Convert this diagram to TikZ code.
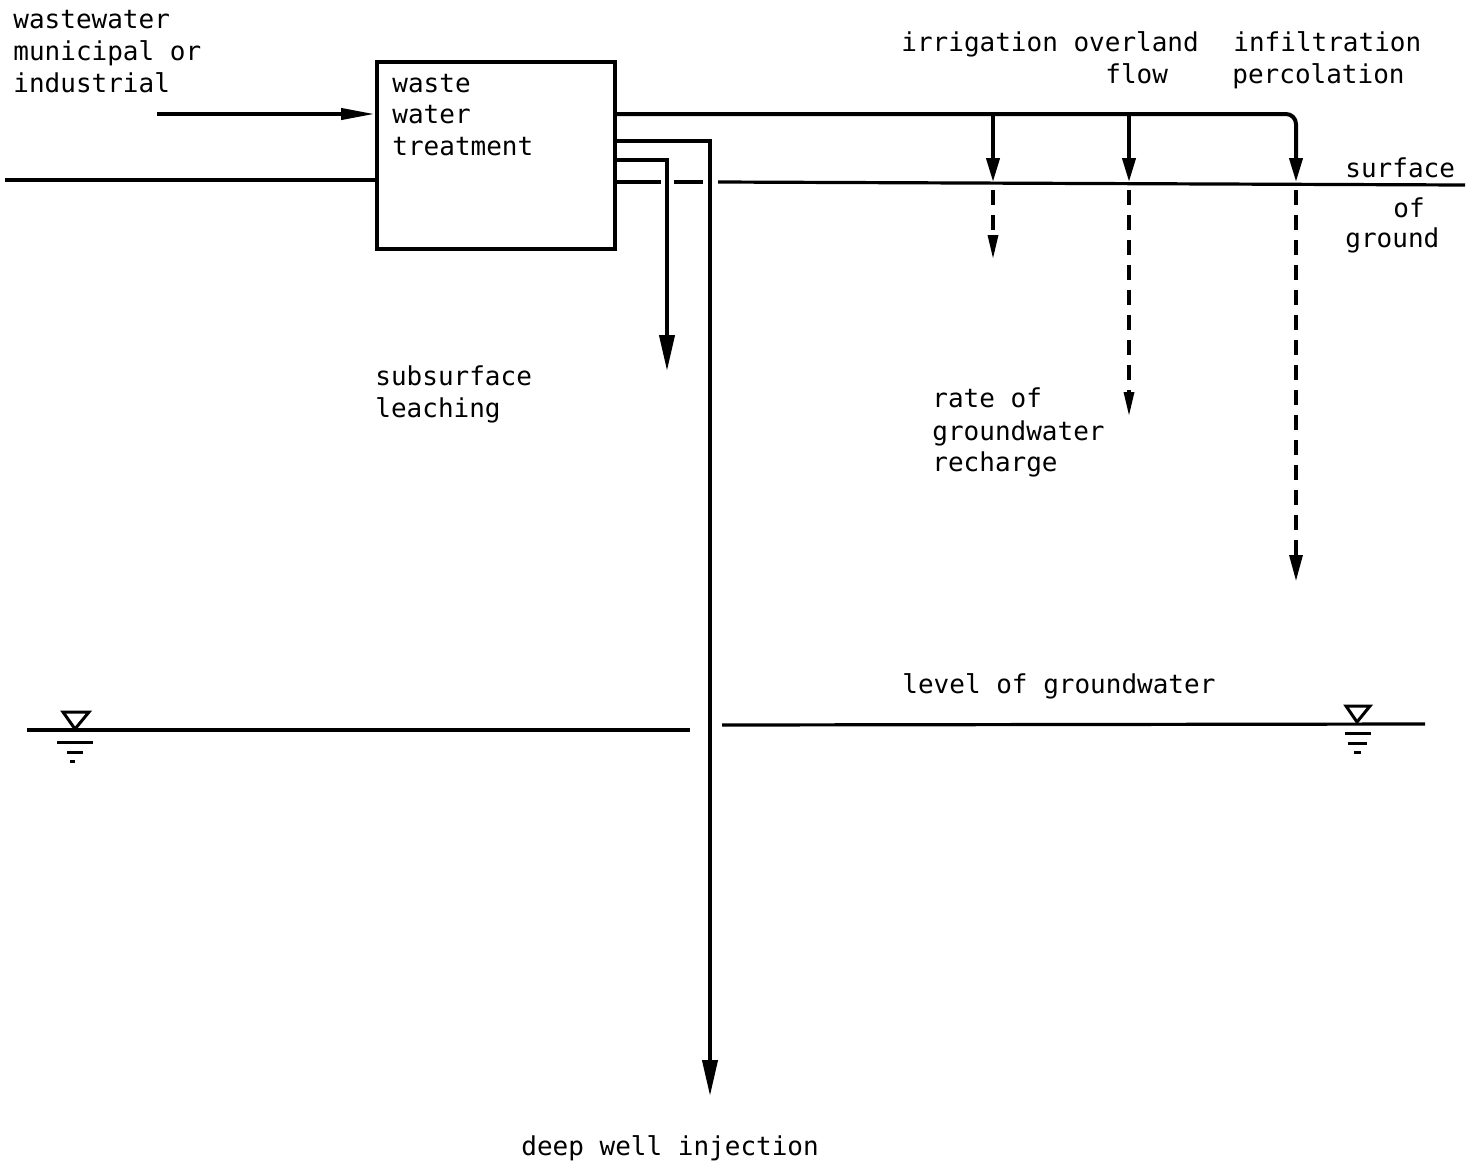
\documentclass[tikz,border=0pt]{standalone}
\usepackage{fontspec}
\setmonofont{DejaVu Sans Mono}
\usetikzlibrary{arrows.meta}
\begin{document}
\begin{tikzpicture}[x=0.5pt,y=-0.5pt,
  lbl/.style={anchor=base west, inner sep=0pt, font=\ttfamily\fontsize{13}{16}\selectfont},
  pipe/.style={line width=2pt},
  thinline/.style={line width=1.6pt},
  bigtip/.style={-{Triangle[length=18pt,width=7.5pt]}},
  intip/.style={-{Triangle[length=17pt,width=5.5pt]}},
  surftip/.style={-{Triangle[length=12pt,width=6.5pt]}},
  dashline/.style={line width=1.6pt, dash pattern=on 7.5pt off 5pt},
  smalltip/.style={-{Triangle[length=12pt,width=5pt]}},
  wtsym/.style={line width=1.5pt}
]
\useasboundingbox (0,0) rectangle (1479,1168);

% treatment box
\node (box) [draw, pipe, inner sep=0pt, minimum width=119pt, minimum height=93.5pt, anchor=north west] at (375,60) {};
\node (boxtxt1) [lbl] at (392,92) {waste};
\node (boxtxt2) [lbl] at (392,123) {water};
\node (boxtxt3) [lbl] at (392,155) {treatment};

% input
\node (intxt1) [lbl] at (13,28) {wastewater};
\node (intxt2) [lbl] at (13,60) {municipal or};
\node (intxt3) [lbl] at (13,92) {industrial};
\coordinate (in) at (157,114);
\draw[pipe, intip] (in) -- (box.west |- in);

% ground surface
\coordinate (gL) at (5,180);
\coordinate (gA) at (661,182);
\coordinate (gB) at (674,182);
\coordinate (gC) at (703,182);
\coordinate (gD) at (718,182);
\coordinate (gR) at (1465,185);
\draw[thinline] (gL) -- (box.west |- gL);
\draw[thinline] (box.east |- gA) -- (gA);
\draw[thinline] (gB) -- (gC);
\draw[thinline] (gD) -- (gR);

% distribution to surface methods
\coordinate (top) at (1296,114);
\coordinate (s1) at (993,182);
\coordinate (s2) at (1129,182);
\coordinate (s3) at (1296,182);
\draw[pipe, rounded corners=5pt, surftip] (box.east |- top) -- (top) -- (s3);
\draw[pipe, surftip] (s1 |- top) -- (s1);
\draw[pipe, surftip] (s2 |- top) -- (s2);

% infiltration (dashed)
\coordinate (r1) at (993,259);
\coordinate (r2) at (1129,416);
\coordinate (r3) at (1296,581);
\draw[dashline, smalltip] ([yshift=-4pt]s1) -- (r1);
\draw[dashline, smalltip] ([yshift=-4pt]s2) -- (r2);
\draw[dashline, -{Triangle[length=13pt,width=6.5pt]}] ([yshift=-4pt]s3) -- (r3);

% subsurface leaching
\coordinate (lk) at (667,160);
\coordinate (lend) at (667,371);
\draw[pipe, bigtip] (box.east |- lk) -- (lk) -- (lend);

% deep well injection
\coordinate (dk) at (710,141);
\coordinate (dend) at (710,1096);
\draw[pipe, bigtip] (box.east |- dk) -- (dk) -- (dend);

% groundwater level
\coordinate (wL0) at (27,730);
\coordinate (wL1) at (690,730);
\coordinate (wR0) at (722,725);
\coordinate (wR1) at (1425,724);
\draw[thinline] (wL0) -- (wL1);
\draw[thinline] (wR0) -- (wR1);

% water table symbols
\draw[wtsym] (63,712) -- (89,712) -- (75,729) -- cycle;
\draw[wtsym] (57,742) -- (93,742);
\draw[wtsym] (67,752) -- (83,752);
\draw[wtsym] (70,761) -- (75,761);
\draw[wtsym] (1346,706) -- (1370,706) -- (1357,722) -- cycle;
\draw[wtsym] (1345,733) -- (1371,733);
\draw[wtsym] (1348,743) -- (1367,743);
\draw[wtsym] (1354,752) -- (1361,752);

% labels
\node (irr) [lbl] at (901,51) {irrigation overland};
\node (flow) [lbl] at (1105,83) {flow};
\node (inf1) [lbl] at (1233,51) {infiltration};
\node (inf2) [lbl] at (1232,83) {percolation};
\node (surf1) [lbl] at (1345,177) {surface};
\node (surf2) [lbl] at (1393,217) {of};
\node (surf3) [lbl] at (1345,247) {ground};
\node (leach1) [lbl] at (375,385) {subsurface};
\node (leach2) [lbl] at (375,417) {leaching};
\node (rate1) [lbl] at (932,407) {rate of};
\node (rate2) [lbl] at (932,440) {groundwater};
\node (rate3) [lbl] at (932,471) {recharge};
\node (lvl) [lbl] at (902,693) {level of groundwater};
\node (deep) [lbl] at (521,1155) {deep well injection};
\end{tikzpicture}
\end{document}
